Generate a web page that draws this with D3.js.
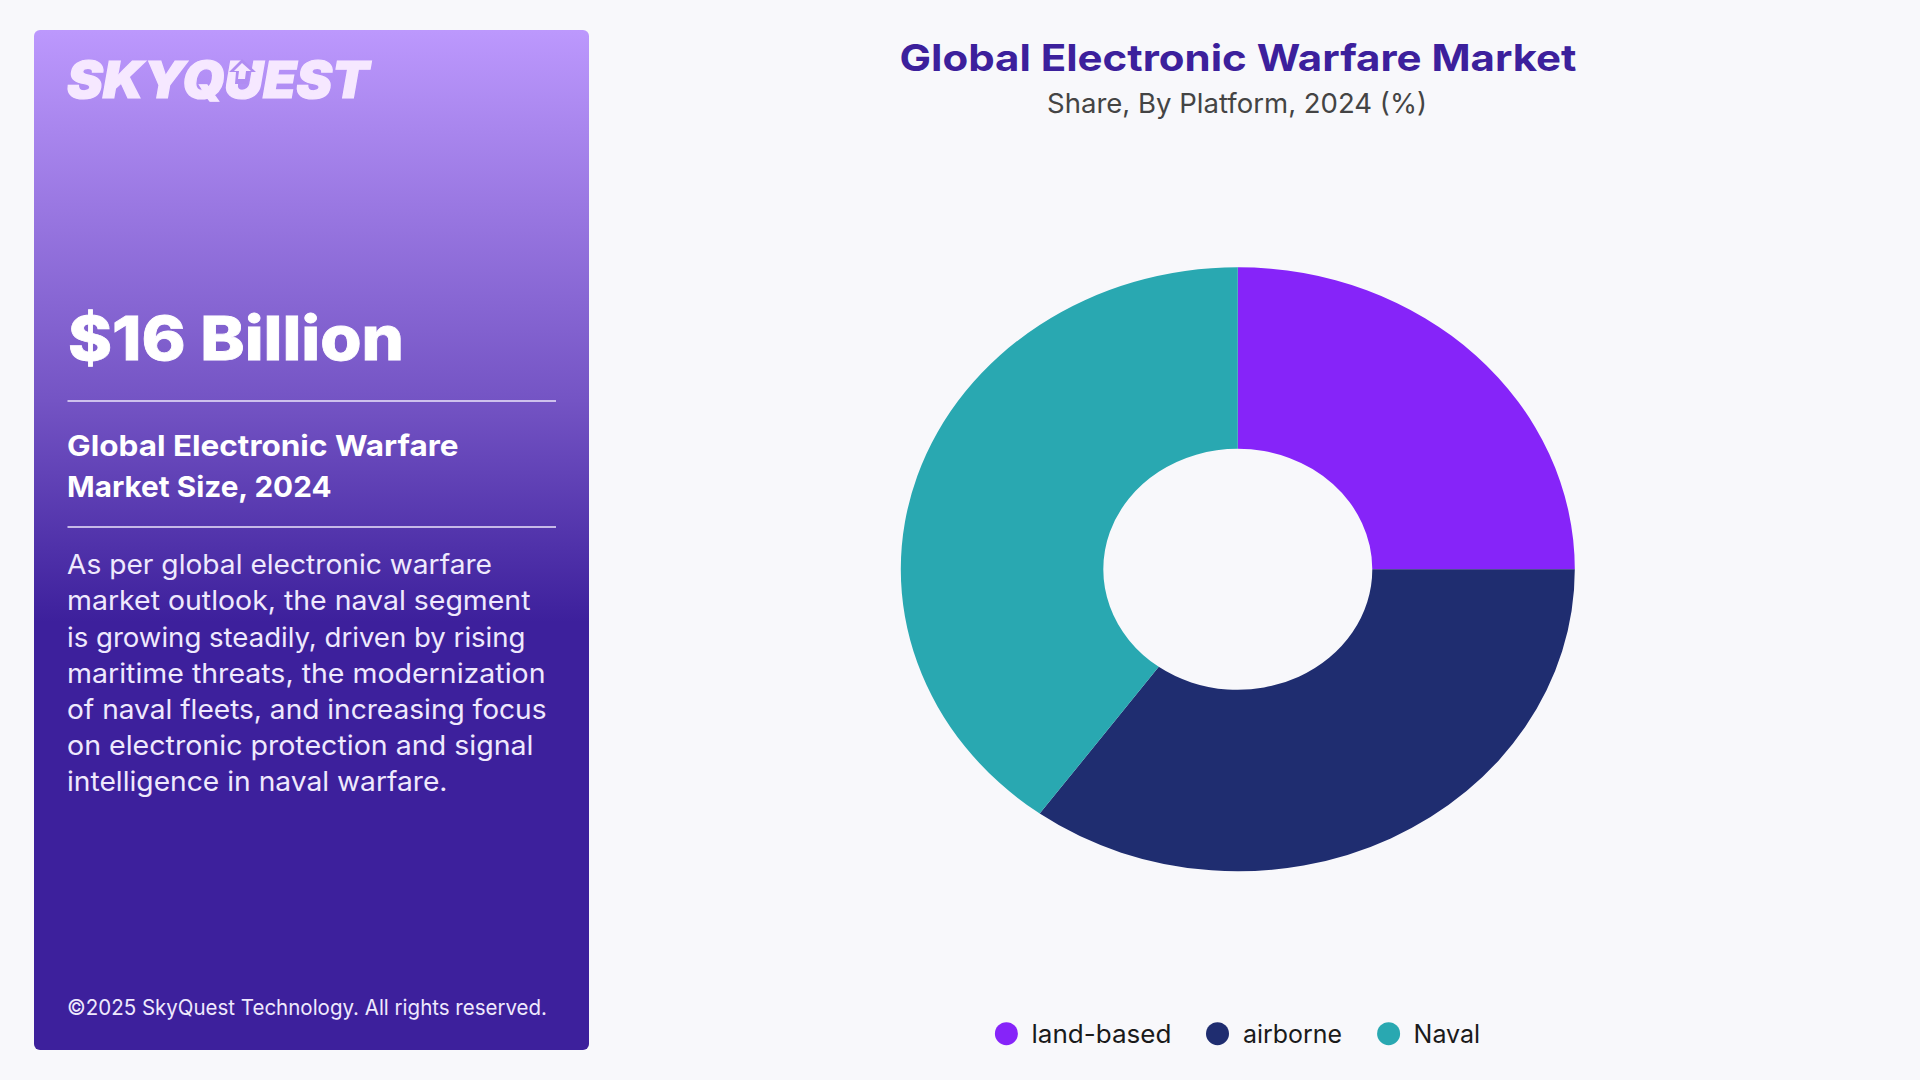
<!DOCTYPE html>
<html>
<head>
<meta charset="utf-8">
<title>Global Electronic Warfare Market</title>
<script src="https://cdn.jsdelivr.net/npm/d3@7"></script>
<style>
  html, body { margin: 0; padding: 0; background: #f8f8fb; }
  svg { display: block; }
  text { font-family: Inter, "Noto Sans", sans-serif; }
</style>
</head>
<body>
<div id="chart"></div>
<script>
var platforms = ['land-based', 'airborne', 'Naval'];
var shares = [25, 35, 40];
var colors = ['#8624f9', '#1f2d70', '#29a8b1'];

var title = 'Global Electronic Warfare Market';
var subtitle = 'Share, By Platform, 2024 (%)';
var marketValue = '$16 Billion';
var sizeLines = ['Global Electronic Warfare', 'Market Size, 2024'];
var bodyLines = [
  'As per global electronic warfare',
  'market outlook, the naval segment',
  'is growing steadily, driven by rising',
  'maritime threats, the modernization',
  'of naval fleets, and increasing focus',
  'on electronic protection and signal',
  'intelligence in naval warfare.'
];
var copyright = '©2025 SkyQuest Technology. All rights reserved.';

var svg = d3.select('#chart').append('svg')
  .attr('width', 1920)
  .attr('height', 1080);

// left panel
var grad = svg.append('defs').append('linearGradient')
  .attr('id', 'panelGrad')
  .attr('x1', 0).attr('y1', 0).attr('x2', 0).attr('y2', 1);
grad.append('stop').attr('offset', 0).attr('stop-color', '#bc98fd');
grad.append('stop').attr('offset', 0.363).attr('stop-color', '#7454c4');
grad.append('stop').attr('offset', 0.58).attr('stop-color', '#3d209c');
grad.append('stop').attr('offset', 1).attr('stop-color', '#3d209c');

svg.append('rect')
  .attr('x', 34).attr('y', 30)
  .attr('width', 555).attr('height', 1020)
  .attr('rx', 6)
  .attr('fill', 'url(#panelGrad)');

// font sizes are picked by hand, the width is forced to what the picture shows
function label(txt, x, y, size, weight, color, width) {
  return svg.append('text')
    .attr('x', x).attr('y', y)
    .attr('font-size', size)
    .attr('font-weight', weight)
    .attr('fill', color)
    .attr('textLength', width)
    .attr('lengthAdjust', 'spacingAndGlyphs')
    .text(txt);
}

label('SKYQUEST', 67, 97.5, 51, 900, '#f6e8ff', 302)
  .attr('font-style', 'italic')
  .attr('stroke', '#f6e8ff')
  .attr('stroke-width', 1.2);

// the arrow inside the U of the logo
var logoLine = d3.line();
svg.append('path')
  .attr('d', logoLine([[242, 59], [256, 72], [249, 72], [248, 84], [235, 84], [236, 72], [229, 72]]) + 'Z')
  .attr('fill', '#b08cf2');
svg.append('path')
  .attr('d', logoLine([[242, 63], [251, 71], [246, 71], [245, 79], [238, 79], [239, 71], [234, 71]]) + 'Z')
  .attr('fill', '#f6e8ff');

label(marketValue, 68, 360, 61, 800, '#ffffff', 336)
  .attr('stroke', '#ffffff')
  .attr('stroke-width', 0.8);

svg.selectAll('line.rule')
  .data([401, 527])
  .enter().append('line')
  .attr('class', 'rule')
  .attr('x1', 67.5).attr('x2', 556)
  .attr('y1', function (d) { return d; })
  .attr('y2', function (d) { return d; })
  .attr('stroke', '#ece6fb')
  .attr('stroke-width', 1.5);

var sizeBase = [456, 497];
var sizeWidth = [391.5, 264.5];
sizeLines.forEach(function (t, i) {
  label(t, 67, sizeBase[i], 29, 700, '#ffffff', sizeWidth[i]);
});

var bodyBase = [574, 610, 647, 683, 719, 755, 791];
var bodyWidth = [425, 463.5, 458.5, 478.5, 479.5, 466.5, 380.5];
bodyLines.forEach(function (t, i) {
  label(t, 67, bodyBase[i], 27, 400, '#efe9fd', bodyWidth[i]);
});

label(copyright, 67, 1015, 21, 400, '#efe9fd', 480);

// titles
label(title, 899.5, 71, 37, 700, '#3c209c', 677);
label(subtitle, 1047, 113, 27, 400, '#444444', 380);

// donut, squashed vertically like in the picture
var pie = d3.pie().sort(null)(shares);
var arc = d3.arc().innerRadius(134.5).outerRadius(337);

svg.append('g')
  .attr('transform', 'translate(1237.8,569.3) scale(1,' + (302 / 337) + ')')
  .selectAll('path')
  .data(pie)
  .enter().append('path')
  .attr('d', arc)
  .attr('fill', function (d, i) { return colors[i]; });

// legend
var legendDot = [1006.4, 1217.5, 1388.6];
var legendText = [1031.5, 1243, 1413.6];
var legendWidth = [140, 99, 66.5];
platforms.forEach(function (p, i) {
  svg.append('circle')
    .attr('cx', legendDot[i]).attr('cy', 1033.7)
    .attr('r', 11.5)
    .attr('fill', colors[i]);
  label(p, legendText[i], 1043, 25, 400, '#1a1a1a', legendWidth[i]);
});
</script>
</body>
</html>
